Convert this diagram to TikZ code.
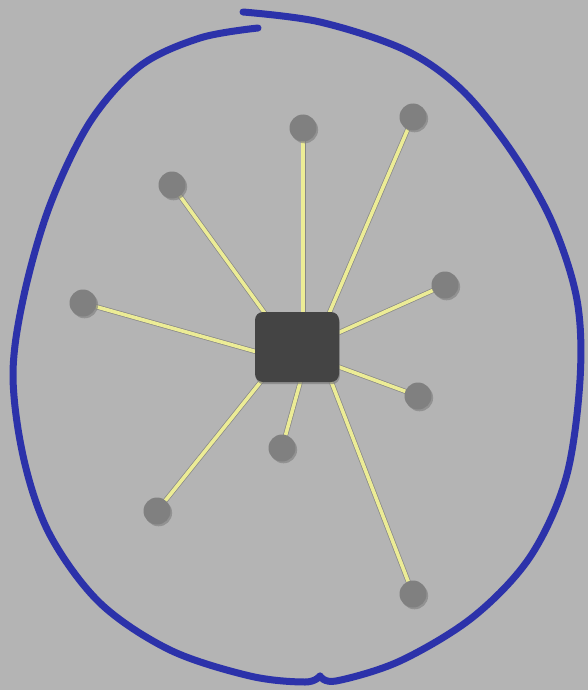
\documentclass[tikz,border=0pt]{standalone}
\usetikzlibrary{shadows,backgrounds}
\definecolor{bg}{RGB}{180,180,180}
\definecolor{loop}{RGB}{44,50,170}
\definecolor{spoke}{RGB}{236,236,150}
\definecolor{sat}{RGB}{128,128,128}
\definecolor{hubc}{RGB}{68,68,68}
\tikzset{
  satnode/.style={circle, fill=sat, minimum size=27pt, inner sep=0pt,
    drop shadow={shadow xshift=1.6pt, shadow yshift=-1.8pt, opacity=0.65}},
  hubnode/.style={rectangle, rounded corners=8pt, fill=hubc, minimum width=84pt, minimum height=70pt,
    drop shadow={shadow xshift=0.8pt, shadow yshift=-2.2pt, opacity=0.7}},
  spokeshadow/.style={line width=5pt, draw=black, opacity=0.25, xshift=1.2pt, yshift=-1.2pt},
  spokeline/.style={line width=3.6pt, draw=spoke},
  loopline/.style={line width=7pt, draw=loop, line cap=round, line join=round}
}
\begin{document}
\begin{tikzpicture}[x=1pt,y=-1pt]
\fill[bg] (0,0) rectangle (588,690);
\useasboundingbox (0,0) rectangle (588,690);
% loop
\draw[loopline] plot[smooth, tension=0.55] coordinates {(258,28) (200,38) (140,66) (90,122) (50,205) (24,295) (13,375) (24,460) (50,535) (100,603) (170,650) (250,676) (305,682) (320,676)};
\draw[loopline] plot[smooth, tension=0.55] coordinates {(320,676) (336,681) (400,661) (473,617) (530,557) (566,478) (580,380) (577,300) (552,222) (512,152) (462,90) (405,50) (320,22) (243,12)};
% hub and satellite positions
\coordinate (h1) at (303,330);
\coordinate (h2) at (322,330);
\coordinate (h3) at (277,330);
\coordinate (h4) at (320,341);
\coordinate (h5) at (275,357);
\coordinate (h6) at (320,360);
\coordinate (h7) at (305,365);
\coordinate (h8) at (275,364);
\coordinate (h9) at (326,368);
\coordinate (p1) at (303,128);
\coordinate (p2) at (413,117);
\coordinate (p3) at (172,185);
\coordinate (p4) at (445,285);
\coordinate (p5) at (83,303);
\coordinate (p6) at (418,396);
\coordinate (p7) at (282,448);
\coordinate (p8) at (157,511);
\coordinate (p9) at (413,594);
% spokes
\foreach \i in {1,...,9} {
  \draw[spokeshadow] (p\i) -- (h\i);
}
\foreach \i in {1,...,9} {
  \draw[spokeline] (p\i) -- (h\i);
}
% nodes
\node[hubnode] (hub) at (297,347) {};
\foreach \i in {1,...,9} {
  \node[satnode] (s\i) at (p\i) {};
}
\end{tikzpicture}
\end{document}
